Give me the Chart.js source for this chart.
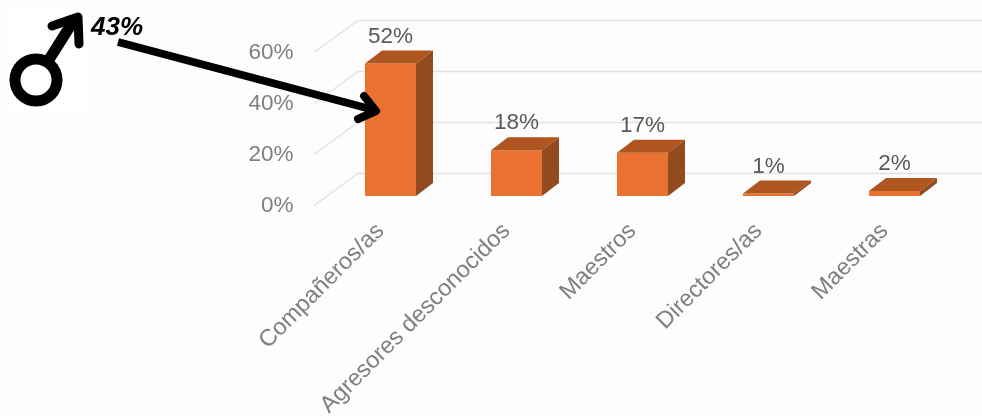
<!DOCTYPE html>
<html lang="es">
<head>
<meta charset="utf-8">
<title>Agresores</title>
<script src="https://cdn.jsdelivr.net/npm/chart.js@4/dist/chart.umd.min.js"></script>
<style>
  html, body { margin: 0; padding: 0; background: #fdfdfd; }
  canvas { display: block; }
</style>
</head>
<body>
<canvas id="grafica" width="982" height="416"></canvas>
<script>
const categorias = ['Compañeros/as', 'Agresores desconocidos', 'Maestros', 'Directores/as', 'Maestras'];
const valores = [52, 18, 17, 1, 2];
const ticksY = [0, 20, 40, 60];
const anotacion = '43%';

const FUENTE = 'Liberation Sans';
const PROF_BARRA = { x: 17, y: -13 };   // profundidad de las barras
const PROF_SUELO = { x: 44, y: -32 };   // del eje a la pared del fondo
const DESPL_BARRAS = 3.7;               // las barras van 9px por encima del frente (en %)

function poligono(ctx, puntos, color) {
  ctx.fillStyle = color;
  ctx.beginPath();
  puntos.forEach((p, i) => i ? ctx.lineTo(p[0], p[1]) : ctx.moveTo(p[0], p[1]));
  ctx.closePath();
  ctx.fill();
}

function trazo(ctx, puntos, ancho) {
  ctx.lineWidth = ancho;
  ctx.beginPath();
  puntos.forEach((p, i) => i ? ctx.lineTo(p[0], p[1]) : ctx.moveTo(p[0], p[1]));
  ctx.stroke();
}

const pared = {
  id: 'pared',
  beforeDatasetsDraw(chart) {
    const { ctx, scales } = chart;
    ctx.save();
    ctx.strokeStyle = '#e2e2e2';
    ctx.lineWidth = 1.5;
    ticksY.forEach(t => {
      const y = scales.y.getPixelForValue(t);
      ctx.beginPath();
      ctx.moveTo(314, y);
      ctx.lineTo(314 + PROF_SUELO.x, y + PROF_SUELO.y);
      ctx.lineTo(982, y + PROF_SUELO.y);
      ctx.stroke();
    });
    ctx.restore();
  }
};

const barras3d = {
  id: 'barras3d',
  afterDatasetsDraw(chart) {
    const { ctx } = chart;
    const { x: dx, y: dy } = PROF_BARRA;
    ctx.save();
    chart.getDatasetMeta(0).data.forEach((barra, i) => {
      const izq = barra.x - barra.width / 2;
      const der = barra.x + barra.width / 2;
      const arriba = barra.y;
      const abajo = barra.base;
      poligono(ctx, [[der, arriba], [der + dx, arriba + dy], [der + dx, abajo + dy], [der, abajo]], '#934a1e');
      poligono(ctx, [[izq, arriba], [izq + dx, arriba + dy], [der + dx, arriba + dy], [der, arriba]], '#ae5520');
      ctx.fillStyle = '#595959';
      ctx.font = `22.5px "${FUENTE}"`;
      ctx.textAlign = 'center';
      ctx.textBaseline = 'middle';
      ctx.fillText(valores[i] + '%', barra.x, arriba + dy - 14);
    });
    ctx.restore();
  }
};

const simbolo = {
  id: 'simbolo',
  afterDraw(chart) {
    const { ctx } = chart;
    ctx.save();
    ctx.fillStyle = '#fff';
    ctx.fillRect(7, 7, 84, 107);
    ctx.strokeStyle = '#000';
    ctx.lineCap = 'round';
    ctx.lineJoin = 'round';
    // signo masculino
    ctx.lineWidth = 11;
    ctx.beginPath();
    ctx.arc(36, 80, 21, 0, Math.PI * 2);
    ctx.stroke();
    trazo(ctx, [[50, 58], [74, 20]], 11);
    trazo(ctx, [[52, 26], [78, 17], [79, 44]], 9);
    // flecha
    ctx.lineCap = 'butt';
    trazo(ctx, [[118, 42], [374, 110]], 8);
    ctx.lineCap = 'round';
    trazo(ctx, [[364, 96], [376, 111], [358, 119]], 8);
    // texto
    ctx.fillStyle = '#000';
    ctx.font = `italic bold 26px "${FUENTE}"`;
    ctx.textAlign = 'left';
    ctx.textBaseline = 'alphabetic';
    ctx.fillText(anotacion, 91, 35);
    ctx.restore();
  }
};

new Chart(document.getElementById('grafica'), {
  type: 'bar',
  data: {
    labels: categorias,
    datasets: [{
      data: valores,
      yAxisID: 'yBarras',
      backgroundColor: '#e97230',
      barPercentage: 0.405,
      categoryPercentage: 1,
      clip: false
    }]
  },
  options: {
    responsive: false,
    animation: false,
    devicePixelRatio: 1,
    layout: { padding: { left: 0, right: 24.5, top: 52.5, bottom: 0 } },
    plugins: { legend: { display: false }, tooltip: { enabled: false } },
    scales: {
      x: {
        grid: { display: false },
        border: { display: false },
        afterFit: s => { s.height = 416 - 205.5; s.paddingLeft = 0; s.paddingRight = 0; },
        ticks: {
          autoSkip: false,
          minRotation: 45,
          maxRotation: 45,
          padding: 4,
          labelOffset: -10,
          color: '#7f7f7f',
          font: { family: FUENTE, size: 23.5 }
        }
      },
      y: {
        position: 'left',
        min: 0,
        max: 60,
        grid: { display: false },
        border: { display: false },
        afterFit: s => { s.width = 327.5; s.paddingTop = 0; s.paddingBottom = 0; },
        afterBuildTicks: s => { s.ticks = ticksY.map(value => ({ value })); },
        ticks: {
          padding: 26,
          color: '#7f7f7f',
          font: { family: FUENTE, size: 22.5 },
          callback: v => v + '%'
        }
      },
      yBarras: {
        display: false,
        min: -DESPL_BARRAS,
        max: 60 - DESPL_BARRAS
      }
    }
  },
  plugins: [pared, barras3d, simbolo]
});
</script>
</body>
</html>
